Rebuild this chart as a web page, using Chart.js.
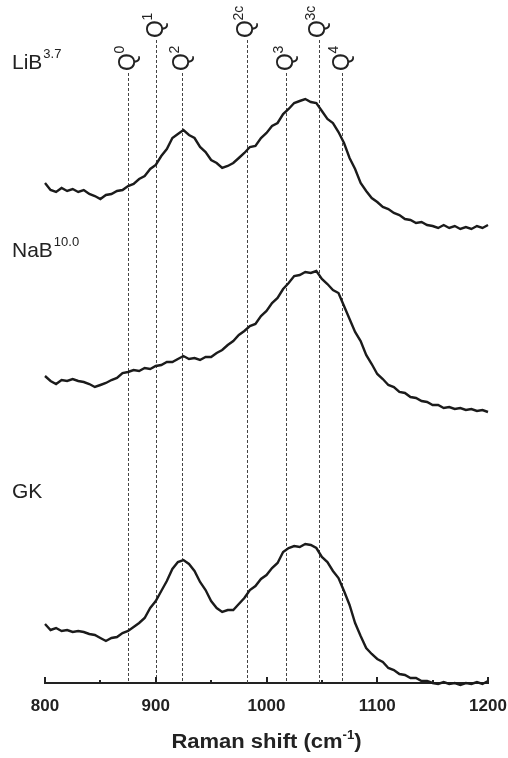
<!DOCTYPE html>
<html>
<head>
<meta charset="utf-8">
<script src="https://cdn.jsdelivr.net/npm/chart.js@4/dist/chart.umd.min.js"></script>
<style>
  html, body { margin: 0; padding: 0; background: #fff; }
  #wrap { width: 508px; height: 758px; }
</style>
</head>
<body>
<div id="wrap"><canvas id="raman" width="508" height="758"></canvas></div>
<script>
// Raman shift grid (cm-1), one reading every 5 cm-1
const shifts = Array.from({ length: 81 }, (_, i) => 800 + i * 5);

// stacked spectra, intensity in plot units (offsets already included)
const liB = [
    500, 493, 491, 495, 492, 494, 491, 493, 489, 487,
    484, 488, 489, 492, 493, 497, 499, 504, 507, 514,
    518, 527, 534, 545, 549, 553, 548, 545, 536, 531,
    523, 520, 515, 517, 520, 525, 530, 536, 537, 545,
    550, 557, 560, 569, 574, 580, 582, 584, 581, 580,
    572, 564, 560, 551, 540, 525, 514, 500, 492, 485,
    481, 476, 474, 470, 468, 464, 463, 460, 461, 458,
    457, 455, 458, 455, 457, 454, 456, 454, 457, 455,
    458
];
const naB = [
    307, 302, 299, 303, 302, 304, 302, 301, 299, 296,
    298, 300, 303, 305, 310, 311, 313, 312, 315, 314,
    317, 318, 321, 321, 324, 327, 324, 325, 323, 326,
    326, 330, 333, 338, 342, 348, 352, 357, 359, 367,
    372, 380, 385, 394, 400, 407, 408, 411, 410, 412,
    404, 399, 393, 390, 377, 364, 351, 342, 328, 319,
    309, 304, 298, 296, 291, 290, 286, 285, 282, 281,
    278, 278, 275, 276, 274, 275, 273, 274, 272, 273,
    271
];
const gk = [
    59, 53, 55, 52, 53, 51, 52, 51, 49, 48,
    45, 42, 45, 46, 50, 52, 56, 60, 65, 75,
    82, 92, 102, 114, 121, 123, 119, 112, 101, 93,
    82, 75, 71, 73, 73, 79, 85, 93, 97, 104,
    108, 115, 120, 131, 135, 137, 136, 139, 138, 135,
    126, 121, 112, 105, 92, 78, 60, 47, 35, 29,
    24, 21, 15, 13, 9, 8, 5, 5, 2, 2,
    0, -1, 1, -1, 0, -2, 0, -1, 1, -1,
    2
];

const seriesNames = ['LiB', 'NaB', 'GK'];
const seriesSup = ['3.7', '10.0', ''];

// Qn band positions
const qShifts = [875, 900, 924, 982, 1018, 1047, 1068];
const qSup = ['0', '1', '2', '2c', '3', '3c', '4'];

const xTicks = [800, 900, 1000, 1100, 1200];
const xMinor = [850, 950, 1050, 1150];

const FONT = '"Liberation Sans", Arial, Helvetica, sans-serif';
const INK = '#222';

const ramanDecor = {
    id: 'ramanDecor',
    beforeDatasetsDraw(chart) {
        const { ctx, chartArea, scales: { x } } = chart;
        ctx.save();
        // dashed band markers
        ctx.strokeStyle = '#444';
        ctx.lineWidth = 1;
        ctx.setLineDash([3, 2]);
        qShifts.forEach((q, i) => {
            const px = Math.round(x.getPixelForValue(q)) + 0.5;
            const top = i % 2 ? 40 : 73;
            ctx.beginPath();
            ctx.moveTo(px, top);
            ctx.lineTo(px, chartArea.bottom);
            ctx.stroke();
        });
        ctx.setLineDash([]);
        // rotated Q labels
        ctx.fillStyle = INK;
        qShifts.forEach((q, i) => {
            const px = x.getPixelForValue(q) + 0.5;
            const bottom = i % 2 ? 38 : 71;
            ctx.save();
            ctx.translate(px, bottom);
            ctx.rotate(-Math.PI / 2);
            ctx.textAlign = 'left';
            ctx.textBaseline = 'middle';
            ctx.font = '23px ' + FONT;
            ctx.fillText('Q', 0, 0);
            const w = ctx.measureText('Q').width;
            ctx.font = '14px ' + FONT;
            ctx.fillText(qSup[i], w - 0.5, -8);
            ctx.restore();
        });
        ctx.restore();
    },
    afterDraw(chart) {
        const { ctx, chartArea, scales: { x } } = chart;
        ctx.save();
        // inward tick marks
        ctx.strokeStyle = INK;
        ctx.lineWidth = 2;
        xTicks.concat(xMinor).forEach(v => {
            const px = Math.round(x.getPixelForValue(v));
            const len = xTicks.includes(v) ? 6 : 3;
            ctx.beginPath();
            ctx.moveTo(px, chartArea.bottom);
            ctx.lineTo(px, chartArea.bottom - len);
            ctx.stroke();
        });

        // series names with superscripts
        ctx.fillStyle = INK;
        ctx.textBaseline = 'alphabetic';
        ctx.textAlign = 'left';
        const nameBase = [69, 257, 498];
        seriesNames.forEach((name, i) => {
            ctx.font = '21px ' + FONT;
            ctx.fillText(name, 12, nameBase[i]);
            const w = ctx.measureText(name).width;
            if (seriesSup[i]) {
                ctx.font = '13px ' + FONT;
                ctx.fillText(seriesSup[i], 12 + w + 1, nameBase[i] - 11);
            }
        });

        // axis title: Raman shift (cm-1), slightly wide as in the original
        const main = 'Raman shift (cm';
        const sup = '-1';
        const tail = ')';
        const stretch = 1.1;
        ctx.font = 'bold 20px ' + FONT;
        const wMain = ctx.measureText(main).width;
        const wTail = ctx.measureText(tail).width;
        ctx.font = 'bold 12px ' + FONT;
        const wSup = ctx.measureText(sup).width;
        const cx = (chartArea.left + chartArea.right) / 2;
        const base = 748;
        ctx.translate(cx, base);
        ctx.scale(stretch, 1);
        let tx = -(wMain + wSup + wTail) / 2;
        ctx.font = 'bold 20px ' + FONT;
        ctx.fillText(main, tx, 0);
        tx += wMain;
        ctx.font = 'bold 12px ' + FONT;
        ctx.fillText(sup, tx, -9);
        tx += wSup;
        ctx.font = 'bold 20px ' + FONT;
        ctx.fillText(tail, tx, 0);
        ctx.restore();
    }
};

const ctx = document.getElementById('raman').getContext('2d');
new Chart(ctx, {
    type: 'line',
    data: {
        datasets: [liB, naB, gk].map((vals, i) => ({
            label: seriesNames[i],
            data: vals.map((v, k) => ({ x: shifts[k], y: v })),
            borderColor: '#1b1b1b',
            borderWidth: 2.4,
            pointRadius: 0,
            tension: 0,
            fill: false,
            clip: false
        }))
    },
    options: {
        responsive: false,
        animation: false,
        devicePixelRatio: 1,
        layout: { padding: { left: 45, right: 20, top: 10, bottom: 0 } },
        plugins: {
            legend: { display: false },
            tooltip: { enabled: false }
        },
        scales: {
            x: {
                type: 'linear',
                min: 800,
                max: 1200,
                afterBuildTicks: s => { s.ticks = xTicks.map(v => ({ value: v })); },
                afterFit: s => {
                    s.height = 75;
                    s.paddingLeft = 0;
                    s.paddingRight = 0;
                },
                ticks: {
                    font: { family: FONT, size: 17, weight: 'bold' },
                    color: INK,
                    padding: 13,
                    maxRotation: 0,
                    callback: v => String(v)
                },
                grid: { display: false, drawTicks: false },
                border: { display: true, color: INK, width: 2 }
            },
            y: { display: false, min: 0, max: 673 }
        }
    },
    plugins: [ramanDecor]
});
</script>
</body>
</html>
